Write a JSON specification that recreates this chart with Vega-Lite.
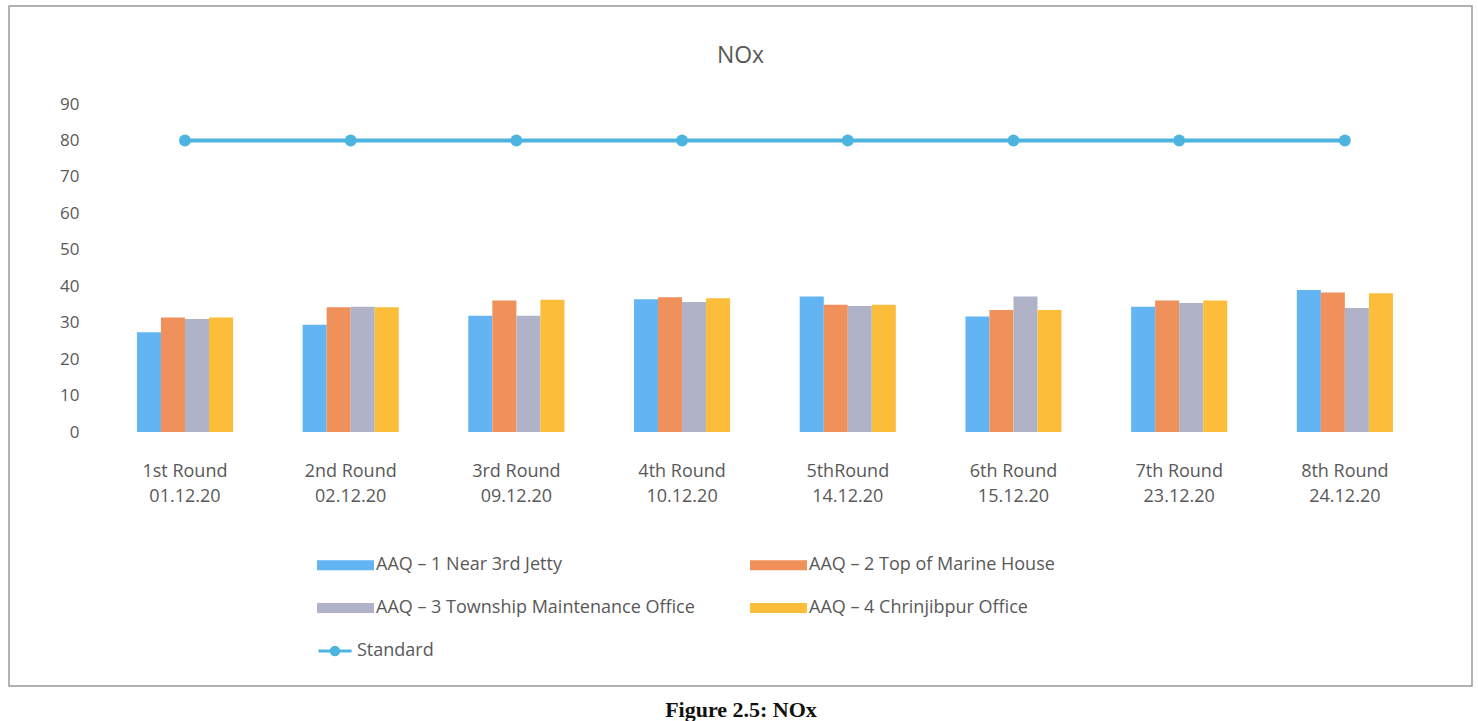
{
  "$schema": "https://vega.github.io/schema/vega-lite/v6.json",
  "autosize": {"type": "none"},
  "width": 1463,
  "height": 680,
  "padding": {"left": 9, "top": 6, "right": 6, "bottom": 35},
  "background": "white",
  "title": {
    "text": "NOx",
    "offset": -62,
    "anchor": "middle",
    "font": "Open Sans",
    "fontSize": 23,
    "fontWeight": "normal",
    "color": "#595959"
  },
  "data": {
    "values": [
      {"round": "1st Round\n01.12.20", "series": "AAQ – 1  Near 3rd Jetty", "value": 27.4},
      {"round": "1st Round\n01.12.20", "series": "AAQ – 2 Top of Marine House", "value": 31.4},
      {"round": "1st Round\n01.12.20", "series": "AAQ – 3 Township Maintenance Office", "value": 31.0},
      {"round": "1st Round\n01.12.20", "series": "AAQ – 4 Chrinjibpur Office", "value": 31.4},
      {"round": "1st Round\n01.12.20", "series": "Standard", "value": 80},
      {"round": "2nd Round\n02.12.20", "series": "AAQ – 1  Near 3rd Jetty", "value": 29.4},
      {"round": "2nd Round\n02.12.20", "series": "AAQ – 2 Top of Marine House", "value": 34.2},
      {"round": "2nd Round\n02.12.20", "series": "AAQ – 3 Township Maintenance Office", "value": 34.4},
      {"round": "2nd Round\n02.12.20", "series": "AAQ – 4 Chrinjibpur Office", "value": 34.2},
      {"round": "2nd Round\n02.12.20", "series": "Standard", "value": 80},
      {"round": "3rd Round\n09.12.20", "series": "AAQ – 1  Near 3rd Jetty", "value": 31.9},
      {"round": "3rd Round\n09.12.20", "series": "AAQ – 2 Top of Marine House", "value": 36.1},
      {"round": "3rd Round\n09.12.20", "series": "AAQ – 3 Township Maintenance Office", "value": 31.9},
      {"round": "3rd Round\n09.12.20", "series": "AAQ – 4 Chrinjibpur Office", "value": 36.3},
      {"round": "3rd Round\n09.12.20", "series": "Standard", "value": 80},
      {"round": "4th Round\n10.12.20", "series": "AAQ – 1  Near 3rd Jetty", "value": 36.4},
      {"round": "4th Round\n10.12.20", "series": "AAQ – 2 Top of Marine House", "value": 37.0},
      {"round": "4th Round\n10.12.20", "series": "AAQ – 3 Township Maintenance Office", "value": 35.7},
      {"round": "4th Round\n10.12.20", "series": "AAQ – 4 Chrinjibpur Office", "value": 36.7},
      {"round": "4th Round\n10.12.20", "series": "Standard", "value": 80},
      {"round": "5thRound\n14.12.20", "series": "AAQ – 1  Near 3rd Jetty", "value": 37.2},
      {"round": "5thRound\n14.12.20", "series": "AAQ – 2 Top of Marine House", "value": 34.9},
      {"round": "5thRound\n14.12.20", "series": "AAQ – 3 Township Maintenance Office", "value": 34.6},
      {"round": "5thRound\n14.12.20", "series": "AAQ – 4 Chrinjibpur Office", "value": 34.9},
      {"round": "5thRound\n14.12.20", "series": "Standard", "value": 80},
      {"round": "6th Round\n15.12.20", "series": "AAQ – 1  Near 3rd Jetty", "value": 31.7},
      {"round": "6th Round\n15.12.20", "series": "AAQ – 2 Top of Marine House", "value": 33.5},
      {"round": "6th Round\n15.12.20", "series": "AAQ – 3 Township Maintenance Office", "value": 37.2},
      {"round": "6th Round\n15.12.20", "series": "AAQ – 4 Chrinjibpur Office", "value": 33.5},
      {"round": "6th Round\n15.12.20", "series": "Standard", "value": 80},
      {"round": "7th Round\n23.12.20", "series": "AAQ – 1  Near 3rd Jetty", "value": 34.4},
      {"round": "7th Round\n23.12.20", "series": "AAQ – 2 Top of Marine House", "value": 36.1},
      {"round": "7th Round\n23.12.20", "series": "AAQ – 3 Township Maintenance Office", "value": 35.4},
      {"round": "7th Round\n23.12.20", "series": "AAQ – 4 Chrinjibpur Office", "value": 36.1},
      {"round": "7th Round\n23.12.20", "series": "Standard", "value": 80},
      {"round": "8th Round\n24.12.20", "series": "AAQ – 1  Near 3rd Jetty", "value": 39.0},
      {"round": "8th Round\n24.12.20", "series": "AAQ – 2 Top of Marine House", "value": 38.3},
      {"round": "8th Round\n24.12.20", "series": "AAQ – 3 Township Maintenance Office", "value": 34.0},
      {"round": "8th Round\n24.12.20", "series": "AAQ – 4 Chrinjibpur Office", "value": 38.1},
      {"round": "8th Round\n24.12.20", "series": "Standard", "value": 80}
    ]
  },
  "encoding": {
    "x": {
      "field": "round",
      "type": "nominal",
      "sort": null,
      "scale": {"paddingInner": 0.42, "paddingOuter": 0.6246, "align": 0.618},
      "axis": {
        "orient": "bottom",
        "offset": -224,
        "labelAngle": 0,
        "labelPadding": 0,
        "labelExpr": "split(datum.label, '\\n')",
        "labelLineHeight": 25,
        "labelFont": "Open Sans",
        "labelFontSize": 18,
        "labelColor": "#595959",
        "domain": false,
        "ticks": false,
        "grid": false,
        "title": "Figure 2.5: NOx",
        "titleY": 254,
        "titleBaseline": "alphabetic",
        "titleFont": "Liberation Serif",
        "titleFontSize": 22,
        "titleFontWeight": "bold",
        "titleColor": "#111111"
      }
    },
    "y": {
      "field": "value",
      "type": "quantitative",
      "scale": {"domain": [-69.7, 116.9], "nice": false, "zero": false},
      "axis": {
        "orient": "left",
        "offset": -72,
        "values": [0, 10, 20, 30, 40, 50, 60, 70, 80, 90],
        "labelPadding": 2,
        "labelFont": "Open Sans",
        "labelFontSize": 17,
        "labelColor": "#595959",
        "domain": false,
        "ticks": false,
        "grid": false,
        "title": null
      }
    },
    "color": {
      "field": "series",
      "type": "nominal",
      "scale": {
        "domain": [
          "AAQ – 1  Near 3rd Jetty",
          "AAQ – 2 Top of Marine House",
          "AAQ – 3 Township Maintenance Office",
          "AAQ – 4 Chrinjibpur Office",
          "Standard"
        ],
        "range": ["#62b4f2", "#f0905a", "#b0b3c8", "#fbbd3a", "#4db4e0"]
      },
      "legend": {
        "orient": "none",
        "direction": "horizontal",
        "legendX": 321.5,
        "legendY": 544,
        "columns": 2,
        "columnPadding": 50,
        "rowPadding": 18,
        "padding": 0,
        "title": null,
        "symbolSize": 729,
        "symbolOffset": 0,
        "labelOffset": 15.5,
        "labelFont": "Open Sans",
        "labelFontSize": 18,
        "labelColor": "#595959",
        "labelLimit": 600,
        "encode": {
          "symbols": {
            "update": {
              "shape": {"signal": "datum.value === 'Standard' ? 'M-2,0H0.45M-0.5,0A0.28,0.28 0 1,1 -1.06,0A0.28,0.28 0 1,1 -0.5,0Z' : 'M-2,-0.26H2V0.26H-2Z'"},
              "fill": {"scale": "color", "field": "value"},
              "stroke": {"scale": "color", "field": "value"},
              "strokeWidth": {"value": 3},
              "opacity": {"value": 1}
            }
          },
          "labels": {
            "update": {
              "dx": {"signal": "datum.value === 'Standard' ? -19 : 0"}
            }
          }
        }
      }
    }
  },
  "layer": [
    {
      "transform": [{"filter": "datum.series !== 'Standard'"}],
      "mark": {"type": "bar", "opacity": 1},
      "encoding": {
        "xOffset": {"field": "series", "type": "nominal", "sort": null, "scale": {"paddingInner": 0, "paddingOuter": 0}},
        "y": {"field": "value", "type": "quantitative"},
        "y2": {"datum": 0}
      }
    },
    {
      "transform": [{"filter": "datum.series === 'Standard'"}],
      "mark": {"type": "line", "strokeWidth": 4, "point": {"filled": true, "size": 140, "opacity": 1}},
      "encoding": {}
    }
  ],
  "config": {
    "view": {"stroke": "#9a9a9a", "strokeWidth": 1.5},
    "font": "Open Sans"
  }
}
